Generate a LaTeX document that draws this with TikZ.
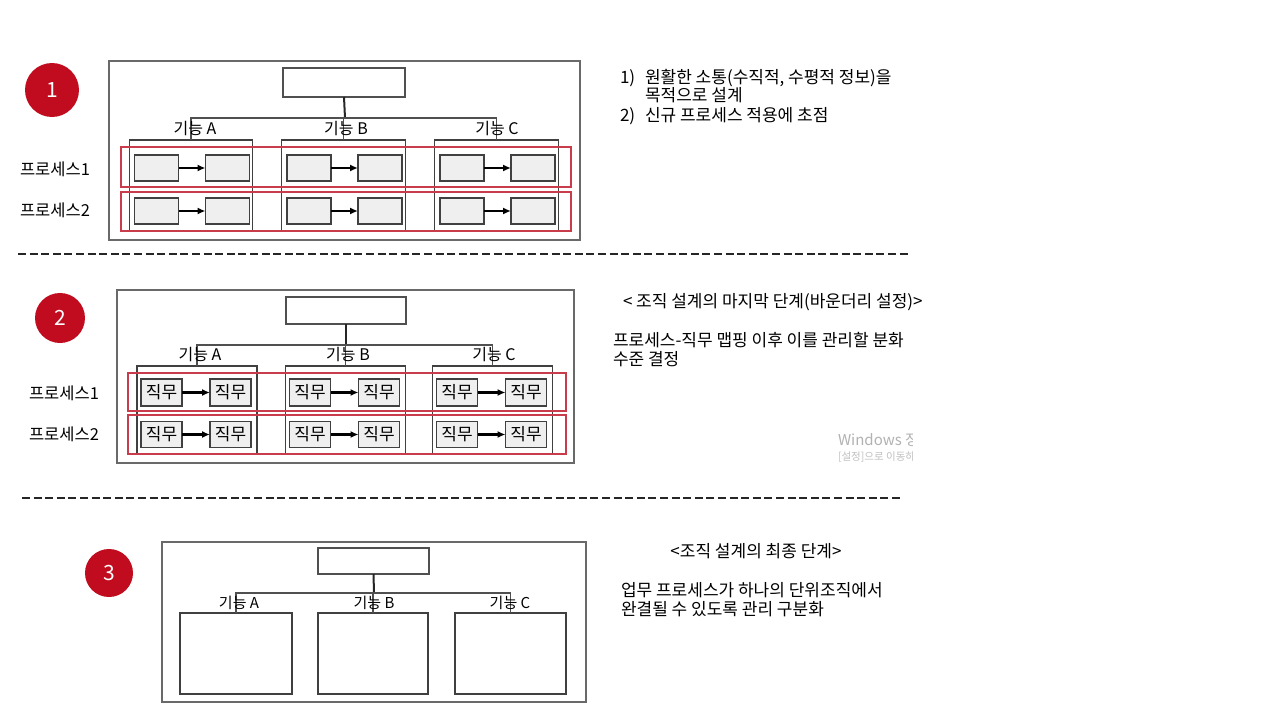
\documentclass[tikz,border=0pt]{standalone}
\usepackage{fontspec}
\setmainfont{Noto Sans CJK KR}
\usetikzlibrary{arrows.meta}
\definecolor{badgered}{RGB}{192,12,30}
\definecolor{rowred}{RGB}{200,60,75}
\definecolor{cellgray}{RGB}{239,239,239}
\definecolor{linegray}{RGB}{80,80,80}
\definecolor{outergray}{RGB}{105,105,105}
\tikzset{
  every node/.style={inner sep=0pt, outer sep=0pt},
  outerbox/.style={draw=outergray, line width=1.5pt},
  topbox/.style={draw=linegray, line width=1.4pt, fill=white},
  colbox/.style={draw=black!75, line width=1.2pt},
  rowbox/.style={draw=rowred, line width=1.2pt},
  cell/.style={draw=black!75, fill=cellgray, line width=1.2pt, font=\fontsize{17}{20}\selectfont},
  arr/.style={-{Latex[length=8pt,width=7pt]}, line width=2.2pt, black},
  stem/.style={line width=2pt, black!85},
  branch/.style={line width=1.2pt, linegray},
  badge/.style={circle, fill=badgered, text=white, font=\fontsize{21}{24}\selectfont},
  side/.style={font=\fontsize{16.5}{19}\selectfont},
  collabel/.style={font=\fontsize{16}{19}\selectfont},
  desc/.style={anchor=base west, font=\fontsize{17}{20}\selectfont},
  sep/.style={line width=2pt, black!85, dash pattern=on 8pt off 3.6pt},
}
\begin{document}
\begin{tikzpicture}[x=1pt,y=-1pt]
\useasboundingbox[fill=white] (0,0) rectangle (1280,720);

% ---------------- Section 1 ----------------
\node[badge, minimum size=54] (b1) at (52,90) {1};
\node[outerbox, minimum width=471, minimum height=179] (s1out) at (344.5,150.5) {};
\node[topbox, minimum width=122, minimum height=29] (s1top) at (344,82.5) {};
\foreach \n/\cx in {A/191, B/343.5, C/496.5} {
  \node[colbox, minimum width=123.5, minimum height=91] (s1col\n) at (\cx,185.5) {};
}
\node[rowbox, minimum width=450, minimum height=40] (s1row1) at (346,167) {};
\node[rowbox, minimum width=450, minimum height=39] (s1row2) at (346,211.5) {};
\foreach \n/\cx in {A/191, B/343.5, C/496.5} {
  \node[cell, minimum width=44, minimum height=26] (s1\n1L) at (\cx-34.5,168) {};
  \node[cell, minimum width=44, minimum height=26] (s1\n1R) at (\cx+36.5,168) {};
  \node[cell, minimum width=44, minimum height=26] (s1\n2L) at (\cx-34.5,211) {};
  \node[cell, minimum width=44, minimum height=26] (s1\n2R) at (\cx+36.5,211) {};
  \draw[arr] (s1\n1L) -- (s1\n1R);
  \draw[arr] (s1\n2L) -- (s1\n2R);
}
\coordinate (s1j) at (345,118);
\draw[stem] (s1top.south) -- (s1j);
\draw[branch] (s1colA.north) -- (s1colA.north |- s1j) -- (s1colC.north |- s1j) -- (s1colC.north);
\draw[branch] (s1colB.north) -- (s1colB.north |- s1j);
\node[collabel] (s1lA) at (195,129) {기능 A};
\node[collabel] (s1lB) at (346,129) {기능 B};
\node[collabel] (s1lC) at (497,129) {기능 C};
\node[side] (s1p1) at (55,169) {프로세스1};
\node[side] (s1p2) at (55,210) {프로세스2};

\node[desc] (t1n1) at (620,83) {1)};
\node[desc] (t1a) at (645,83) {원활한 소통(수직적, 수평적 정보)을};
\node[desc] (t1b) at (645,101) {목적으로 설계};
\node[desc] (t1n2) at (620,121) {2)};
\node[desc] (t1c) at (645,121) {신규 프로세스 적용에 초점};

% separator 1
\coordinate (d1a) at (18,254);
\coordinate (d1b) at (910,254);
\draw[sep] (d1a) -- (d1b);

% ---------------- Section 2 ----------------
\node[badge, minimum size=50] (b2) at (60,318) {2};
\node[outerbox, minimum width=457, minimum height=173] (s2out) at (345.5,376.5) {};
\node[topbox, minimum width=120, minimum height=27] (s2top) at (346,310.5) {};
\foreach \n/\cx in {A/197, B/345.5, C/492.5} {
  \node[colbox, minimum width=120, minimum height=88] (s2col\n) at (\cx,410) {};
}
\node[rowbox, minimum width=438, minimum height=38] (s2row1) at (347,392) {};
\node[rowbox, minimum width=438, minimum height=39] (s2row2) at (347,434.5) {};
\foreach \n/\cx in {A/197, B/345.5, C/492.5} {
  \node[cell, minimum width=41, minimum height=27] (s2\n1L) at (\cx-35.5,392.5) {직무};
  \node[cell, minimum width=41, minimum height=27] (s2\n1R) at (\cx+33.5,392.5) {직무};
  \node[cell, minimum width=41, minimum height=26] (s2\n2L) at (\cx-35.5,434.5) {직무};
  \node[cell, minimum width=41, minimum height=26] (s2\n2R) at (\cx+33.5,434.5) {직무};
  \draw[arr] (s2\n1L) -- (s2\n1R);
  \draw[arr] (s2\n2L) -- (s2\n2R);
}
\coordinate (s2j) at (346,345);
\draw[stem] (s2top.south) -- (s2j);
\draw[branch] (s2colA.north) -- (s2colA.north |- s2j) -- (s2colC.north |- s2j) -- (s2colC.north);
\draw[branch] (s2colB.north) -- (s2colB.north |- s2j);
\node[collabel] (s2lA) at (200,355) {기능 A};
\node[collabel] (s2lB) at (348,355) {기능 B};
\node[collabel] (s2lC) at (494,355) {기능 C};
\node[side] (s2p1) at (64,393) {프로세스1};
\node[side] (s2p2) at (64,434) {프로세스2};

\node[desc] (t2a) at (623,307) {< 조직 설계의 마지막 단계(바운더리 설정)>};
\node[desc] (t2b) at (613,346) {프로세스-직무 맵핑 이후 이를 관리할 분화};
\node[desc] (t2c) at (613,365) {수준 결정};

\begin{scope}
  \clip (820,420) rectangle (912,470);
  \node[anchor=base west, text=black!30, font=\fontsize{15}{17}\selectfont] (wm1) at (838,445) {Windows 정품 인증};
  \node[anchor=base west, text=black!25, font=\fontsize{10.5}{12}\selectfont] (wm2) at (838,460) {[설정]으로 이동하여};
\end{scope}

% separator 2
\coordinate (d2a) at (22,498);
\coordinate (d2b) at (900,498);
\draw[sep] (d2a) -- (d2b);

% ---------------- Section 3 ----------------
\node[badge, minimum size=48] (b3) at (109,573) {3};
\node[outerbox, line width=1.3pt, minimum width=424, minimum height=160] (s3out) at (374,622) {};
\node[topbox, line width=1.2pt, minimum width=111, minimum height=26] (s3top) at (373.5,561) {};
\node[colbox, minimum width=112, minimum height=81] (s3colA) at (236,653.5) {};
\node[colbox, minimum width=110, minimum height=81] (s3colB) at (373,653.5) {};
\node[colbox, minimum width=111, minimum height=81] (s3colC) at (510.5,653.5) {};
\coordinate (s3j) at (374,593);
\draw[stem] (s3top.south) -- (s3j);
\draw[branch] (s3colA.north) -- (s3colA.north |- s3j) -- (s3colC.north |- s3j) -- (s3colC.north);
\draw[branch] (s3colB.north) -- (s3colB.north |- s3j);
\node[collabel, font=\fontsize{15}{17}\selectfont] (s3lA) at (239,603) {기능 A};
\node[collabel, font=\fontsize{15}{17}\selectfont] (s3lB) at (374,603) {기능 B};
\node[collabel, font=\fontsize{15}{17}\selectfont] (s3lC) at (510,603) {기능 C};

\node[desc, anchor=base] (t3a) at (756,557) {<조직 설계의 최종 단계>};
\node[desc] (t3b) at (621,596) {업무 프로세스가 하나의 단위조직에서};
\node[desc] (t3c) at (621,615) {완결될 수 있도록 관리 구분화};
\end{tikzpicture}
\end{document}
